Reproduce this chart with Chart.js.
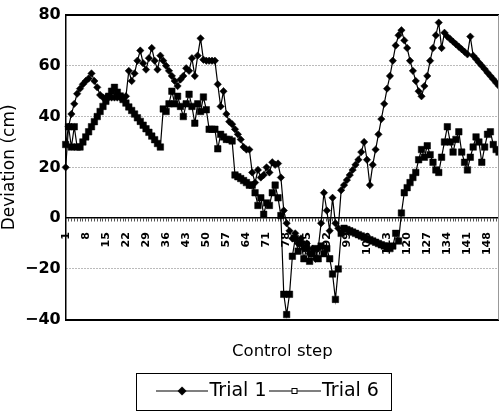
<!DOCTYPE html>
<html lang="en">

<head>
    <meta charset="UTF-8">
    <title>Deviation per control step</title>
    <script src="https://cdn.jsdelivr.net/npm/chart.js@4.4.1/dist/chart.umd.min.js"></script>
    <style>
        /* the scan is cut at the right edge of the plot, so the canvas is a bit wider than the window */
        html, body { margin: 0; background: #fff; overflow: hidden; }
    </style>
</head>

<body>
    <canvas id="chart" width="510" height="413"></canvas>

    <script>
        // deviation (cm), one value per control step
        const trial1 = [
            20, 36, 41, 45, 49, 51, 52.7, 54, 55, 57,
            54, 51.5, 48.5, 47.5, 47.5, 47.5, 47.5, 47.5, 47.5, 47.5,
            47.5, 48, 58, 54, 57, 62, 66, 61, 58.5, 63,
            67, 62, 58.5, 64, 62, 60, 58, 56, 54, 52,
            54.6, 56, 59, 58, 63, 56, 64, 70.8, 62.4, 62,
            62, 62, 62, 52.7, 44, 50, 41, 38, 37, 35,
            33, 31, 28, 27, 27, 18, 14, 19, 16, 17,
            20, 18, 22, 21, 21.5, 16, 3, -2, -5, -8,
            -6, -10, -8, -12, -10, -14, -12, -16, -12, -2,
            10, 3, -5, 8, -2, -4, 11, 13, 15, 17,
            19, 21, 23, 26, 30, 23, 13, 21, 27, 33,
            39, 45, 51, 56, 62, 68, 72, 74, 70, 67,
            62, 58, 54, 50, 48, 52, 56, 62, 67, 72,
            77, 67, 73, 71.5, 70.5, 69.5, 68.5, 67.5, 66.5, 65.5,
            64.5, 71.5, 64, 62.7, 61.3, 60, 58.7, 57.3, 56, 54.7,
            53.3, 52
        ];

        const trial6 = [
            29, 36, 28, 36, 28, 28, 30, 32, 34, 36,
            38, 40, 42, 44, 46, 48, 50, 51.5, 49.6, 48.1,
            46.7, 45.3, 43.8, 42.4, 41, 39.5, 38.1, 36.6, 35.2, 33.8,
            32.3, 30.9, 29.4, 28, 43, 42, 45, 50, 45, 48,
            44, 40, 45, 48.8, 44, 37.4, 45, 42, 47.7, 42.7,
            35, 35, 35, 27.3, 33, 32, 31, 31, 30.4, 17,
            16.3, 15.6, 14.8, 14, 13, 13, 10, 5, 8, 1.5,
            6, 5, 10, 13, 8, 1, -30, -38, -30, -15,
            -8, -13, -10, -16, -12, -17, -14, -12, -16, -11,
            -14, -12, -16, -22, -32, -20, -6, -4, -4.5, -5,
            -5.5, -6, -6.5, -7, -7.5, -8, -8.5, -9, -9.5, -10,
            -10.5, -11, -11.5, -12, -11, -6, -9, 2, 10, 12,
            14, 16, 18, 23, 27, 24, 28.5, 25, 22, 19,
            18, 24, 30, 36, 30, 26, 31, 34, 26, 22,
            19, 24, 28, 32, 30, 22, 28, 33, 34, 29,
            27, 26
        ];

        // steps that carry a label on the axis
        const tickLabels = [1, 8, 15, 22, 29, 36, 43, 50, 57, 64, 71, 78, 85, 92, 99, 106, 113, 120, 127, 134, 141, 148];

        const steps = trial1.map((v, i) => String(i + 1));
        const FONT = "'DejaVu Sans', sans-serif";

        // little line + marker pictures for the legend, like the Excel ones
        function legendIcon(kind) {
            const c = document.createElement('canvas');
            c.width = 52;
            c.height = 12;
            const g = c.getContext('2d');
            g.strokeStyle = '#000';
            g.lineWidth = 1.2;
            g.beginPath();
            g.moveTo(0, 6);
            g.lineTo(52, 6);
            g.stroke();
            if (kind === 'diamond') {
                g.fillStyle = '#000';
                g.beginPath();
                g.moveTo(26, 1.5);
                g.lineTo(30.5, 6);
                g.lineTo(26, 10.5);
                g.lineTo(21.5, 6);
                g.closePath();
                g.fill();
            } else {
                g.fillStyle = '#fff';
                g.fillRect(23.5, 3.5, 5, 5);
                g.lineWidth = 1;
                g.strokeRect(23.5, 3.5, 5, 5);
            }
            return c;
        }
        const icons = [legendIcon('diamond'), legendIcon('square')];

        // frame on top/right and the box round the legend
        const frame = {
            id: 'frame',
            afterLayout(chart) {
                // the legend sits a bit right of the window centre in the original
                chart.legend.left = 33;
            },
            afterDraw(chart) {
                const { ctx, chartArea: a } = chart;
                ctx.save();
                ctx.strokeStyle = '#000';
                ctx.lineWidth = 2;
                ctx.beginPath();
                ctx.moveTo(a.left, a.top);
                ctx.lineTo(a.right, a.top);
                ctx.stroke();
                ctx.strokeStyle = '#999';
                ctx.lineWidth = 1;
                ctx.beginPath();
                ctx.moveTo(a.right - 0.5, a.top);
                ctx.lineTo(a.right - 0.5, a.bottom);
                ctx.stroke();

                const hb = chart.legend.legendHitBoxes;
                if (hb && hb.length) {
                    const l = Math.min(...hb.map(b => b.left));
                    const r = Math.max(...hb.map(b => b.left + b.width));
                    const t = hb[0].top;
                    const h = hb[0].height;
                    ctx.strokeStyle = '#000';
                    ctx.lineWidth = 1;
                    ctx.strokeRect(Math.round(l - 28) + 0.5, Math.round(t - 9) + 0.5, Math.round(r - l + 40), Math.round(h + 18));
                }
                ctx.restore();
            }
        };

        const ctx = document.getElementById('chart').getContext('2d');

        const myChart = new Chart(ctx, {
            type: 'line',
            data: {
                labels: steps,
                datasets: [{
                    label: 'Trial 1',
                    data: trial1,
                    borderColor: '#000',
                    backgroundColor: '#000',
                    borderWidth: 1.2,
                    pointStyle: 'rectRot',
                    pointRadius: 3.7,
                    pointBorderWidth: 0.5,
                    pointBackgroundColor: '#000',
                    pointBorderColor: '#000',
                    tension: 0,
                    fill: false
                }, {
                    label: 'Trial 6',
                    data: trial6,
                    borderColor: '#000',
                    backgroundColor: '#000',
                    borderWidth: 1.2,
                    pointStyle: 'rect',
                    pointRadius: 4.6,
                    pointBorderWidth: 0.5,
                    pointBackgroundColor: '#000',
                    pointBorderColor: '#000',
                    tension: 0,
                    fill: false
                }]
            },
            options: {
                responsive: false,
                animation: false,
                layout: { padding: { top: 15, left: 1, right: 0, bottom: 2.5 } },
                scales: {
                    x: {
                        type: 'category',
                        position: { y: 0 },
                        offset: false,
                        border: { display: true, color: '#000', width: 1.5 },
                        grid: { display: true, drawOnChartArea: false, drawTicks: true, tickLength: 3, color: '#555', lineWidth: 1 },
                        ticks: {
                            autoSkip: false,
                            minRotation: 90,
                            maxRotation: 90,
                            padding: 11,
                            color: '#000',
                            font: (c) => ({ family: FONT, size: 11, weight: 'bold', lineHeight: tickLabels.includes(c.index + 1) ? 1.2 : 0 }),
                            callback: (v, i) => tickLabels.includes(i + 1) ? steps[i] : ''
                        }
                    },
                    xb: {
                        type: 'category',
                        position: 'bottom',
                        grid: { display: false },
                        border: { display: true, color: '#000', width: 2 },
                        ticks: { display: false },
                        title: {
                            display: true,
                            text: 'Control step',
                            color: '#000',
                            font: { family: FONT, size: 16.5 },
                            padding: { top: 14, bottom: 10 }
                        }
                    },
                    y: {
                        min: -40,
                        max: 80,
                        ticks: {
                            stepSize: 20,
                            padding: 5,
                            color: '#000',
                            font: { family: FONT, size: 16, weight: 'bold' },
                            callback: (v) => v < 0 ? '\u2212' + (-v) : String(v)
                        },
                        grid: {
                            drawTicks: false,
                            lineWidth: 1,
                            color: (c) => [80, 0, -40].includes(c.tick.value) ? 'rgba(0,0,0,0)' : '#777'
                        },
                        border: { display: true, color: '#000', width: 1.5, dash: [1, 2] },
                        title: {
                            display: true,
                            text: 'Deviation (cm)',
                            color: '#000',
                            font: { family: FONT, size: 17, lineHeight: 1 },
                            padding: { top: 0, bottom: 2 }
                        }
                    }
                },
                plugins: {
                    tooltip: { enabled: false },
                    legend: {
                        position: 'bottom',
                        labels: {
                            usePointStyle: true,
                            pointStyleWidth: 36,
                            padding: 10,
                            color: '#000',
                            font: { family: FONT, size: 19 },
                            generateLabels(chart) {
                                const items = Chart.defaults.plugins.legend.labels.generateLabels(chart);
                                items.forEach((it, i) => { it.pointStyle = icons[i]; });
                                return items;
                            }
                        }
                    }
                }
            },
            plugins: [frame]
        });
    </script>

</body>

</html>
